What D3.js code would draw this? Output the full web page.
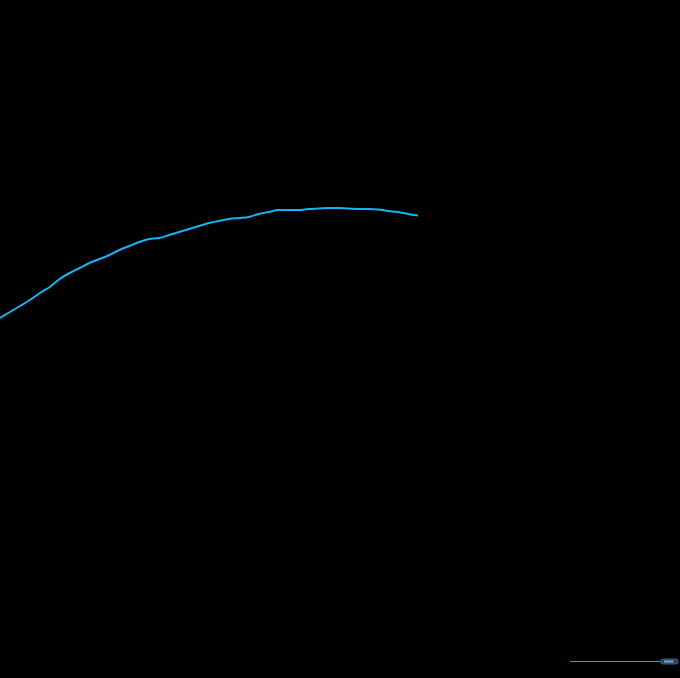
<!DOCTYPE html>
<html><head><meta charset="utf-8">
<script src="https://cdn.jsdelivr.net/npm/d3@7"></script>
<style>html,body{margin:0;padding:0;background:#000;}svg{display:block;}</style>
</head><body>
<svg id="chart" width="680" height="678"></svg>
<script>
// data
const days = d3.range(0, 43);
const values = [20.5,22,23.5,25,26.75,28.25,30.25,31.75,33,34.25,35.25,36.25,37.5,38.5,39.5,40.25,40.5,41.25,42,42.75,43.5,44.25,44.75,45.25,45.5,45.75,46.5,47,47.5,47.5,47.5,47.75,47.875,48,48,47.875,47.75,47.75,47.625,47.25,47,46.5,46.125];
const xDomain = [0, 68.33];
const yDomain = [0, 100];
const scrollRange = [0, 1]; // full range, view at end

const W = 680, H = 678;
const svg = d3.select("#chart");
svg.append("rect").attr("width", W).attr("height", H).attr("fill", "#000");

const x = d3.scaleLinear().domain(xDomain).range([0, W]);
const y = d3.scaleLinear().domain(yDomain).range([400, 0]);

const line = d3.line().x((d,i)=>x(days[i])).y(d=>y(d)).curve(d3.curveMonotoneX);
svg.append("path").datum(values).attr("d", line)
  .attr("fill","none").attr("stroke","#18b2f6").attr("stroke-width",2);

// scrollbar
const s = d3.scaleLinear().domain(scrollRange).range([570, 678]);
const sg = svg.append("g");
sg.append("line").attr("x1", s(0)).attr("x2", s(0.84)).attr("y1", 661.5).attr("y2", 661.5)
  .attr("stroke","#55939b").attr("stroke-width",1.2);
sg.append("rect").attr("x", s(0.84)).attr("y", 659).attr("width", s(1)-s(0.84)).attr("height", 5)
  .attr("rx",2).attr("fill","#243f5c").attr("stroke","#4d6f8f").attr("stroke-width",0.8);
sg.append("rect").attr("x", s(0.87)).attr("y", 660.5).attr("width", s(0.96)-s(0.87)).attr("height", 2)
  .attr("fill","#7aa6c8");
</script>
</body></html>
